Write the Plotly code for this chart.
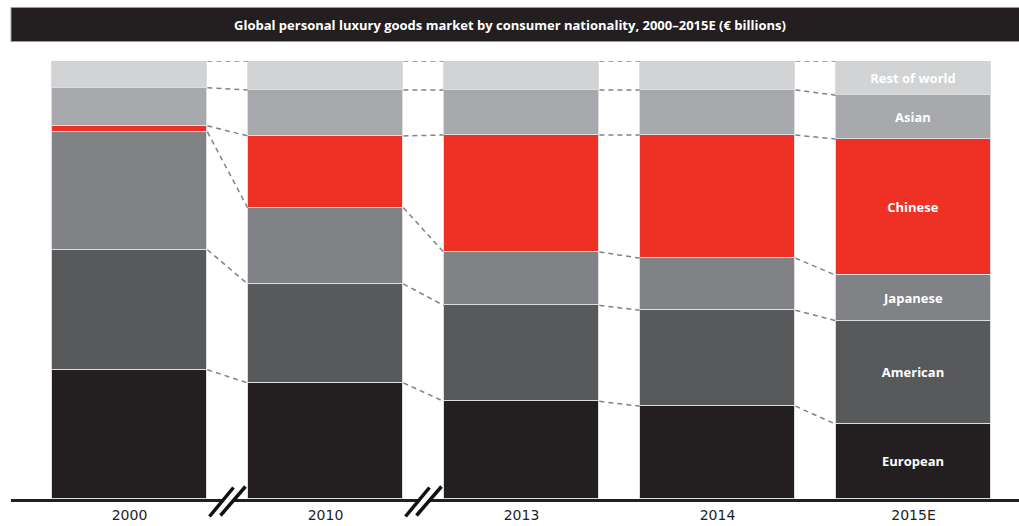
import plotly.graph_objects as go

# ---- data (share of market, %) ----
years = ["2000", "2010", "2013", "2014", "2015E"]
european = [29.5, 26.5, 22.3, 21.2, 17.1]
american = [27.4, 22.6, 21.9, 21.9, 23.6]
japanese = [26.9, 17.4, 12.2, 11.9, 10.4]
chinese = [1.4, 16.4, 26.7, 28.1, 31.1]
asian = [8.7, 10.5, 10.3, 10.3, 10.0]
rest_of_world = [6.1, 6.6, 6.6, 6.6, 7.8]

series_names = ["European", "American", "Japanese", "Chinese", "Asian", "Rest of world"]
series_values = [european, american, japanese, chinese, asian, rest_of_world]
series_colors = ["#231f20", "#58595b", "#808285", "#ee3124", "#a7a9ac", "#d1d3d4"]

title_text = "Global personal luxury goods market by consumer nationality, 2000\u20132015E (\u20ac billions)"

W, H = 1019, 526
bar_w = 0.795
xs = list(range(len(years)))

fig = go.Figure()
last = len(years) - 1
for name, vals, col in zip(series_names, series_values, series_colors):
    fig.add_trace(go.Bar(
        x=xs, y=vals, name=name, width=bar_w,
        marker=dict(color=col, line=dict(color="#dcddde", width=1)),
        text=[name if i == last else "" for i in xs],
        textposition="inside", insidetextanchor="middle", textangle=0,
        constraintext="none",
        textfont=dict(family="Open Sans", size=13, color="white", weight="bold"),
        hoverinfo="skip", showlegend=False,
    ))

# dashed connectors between segment boundaries of neighbouring bars
cum = []
for i in xs:
    s = 0
    levels = []
    for vals in series_values:
        s += vals[i]
        levels.append(s)
    cum.append(levels)

lx, ly = [], []
for k in range(len(series_values)):
    for i in xs[:-1]:
        lx += [i + bar_w / 2, i + 1 - bar_w / 2, None]
        ly += [cum[i][k], cum[i + 1][k], None]
fig.add_trace(go.Scatter(x=lx, y=ly, mode="lines",
                         line=dict(color="#808285", width=1.5, dash="5px,4px"),
                         hoverinfo="skip", showlegend=False, cliponaxis=False))

# layout geometry
px_per_unit = 196.0
x0_px = 129.5
xmin = -x0_px / px_per_unit
xmax = (W - x0_px) / px_per_unit
top_px, bot_px = 61, 499
ph = bot_px - top_px

def py(p):  # pixel y -> paper
    return (bot_px - p) / ph

def px(p):  # pixel x -> data x
    return (p - x0_px) / px_per_unit

shapes = []
# title band
shapes.append(dict(type="rect", xref="paper", yref="paper", x0=11 / W, x1=1.01,
                   y0=py(41.5), y1=py(7.5), fillcolor="#231f20",
                   line=dict(width=1, color="#9a9a9a"), layer="above"))
# baseline
shapes.append(dict(type="line", xref="x", yref="paper", x0=px(11), x1=xmax,
                   y0=py(500.5), y1=py(500.5), line=dict(color="#231f20", width=3)))
# axis-break marks between 2000-2010 and 2010-2013
for g in [0.5, 1.5]:
    def gx(d):
        return g + d / px_per_unit
    shapes.append(dict(type="line", xref="x", yref="paper", x0=gx(-12.5), x1=gx(12), y0=py(516), y1=py(487),
                       line=dict(color="white", width=8)))
    shapes.append(dict(type="line", xref="x", yref="paper", x0=gx(-18), x1=gx(6), y0=py(516.5), y1=py(487.5),
                       line=dict(color="#111111", width=3.5)))
    shapes.append(dict(type="line", xref="x", yref="paper", x0=gx(-7), x1=gx(18), y0=py(515.5), y1=py(486.5),
                       line=dict(color="#111111", width=3.5)))

fig.update_layout(
    width=W, height=H,
    margin=dict(l=0, r=0, t=top_px, b=H - bot_px, pad=0),
    paper_bgcolor="white", plot_bgcolor="white",
    barmode="stack", bargap=0,
    shapes=shapes,
    annotations=[dict(text=title_text, xref="paper", yref="paper", x=510 / W, y=py(24.5),
                      showarrow=False, xanchor="center", yanchor="middle",
                      font=dict(family="Open Sans", size=13, color="white", weight="bold"))],
    xaxis=dict(range=[xmin, xmax], tickvals=xs, ticktext=years, showgrid=False, zeroline=False,
               showline=False, ticks="", ticklabelstandoff=6,
               tickfont=dict(family="DejaVu Sans", size=14, color="#231f20")),
    yaxis=dict(range=[0, 100], visible=False, showgrid=False, zeroline=False),
)

fig.write_html("out.html")
